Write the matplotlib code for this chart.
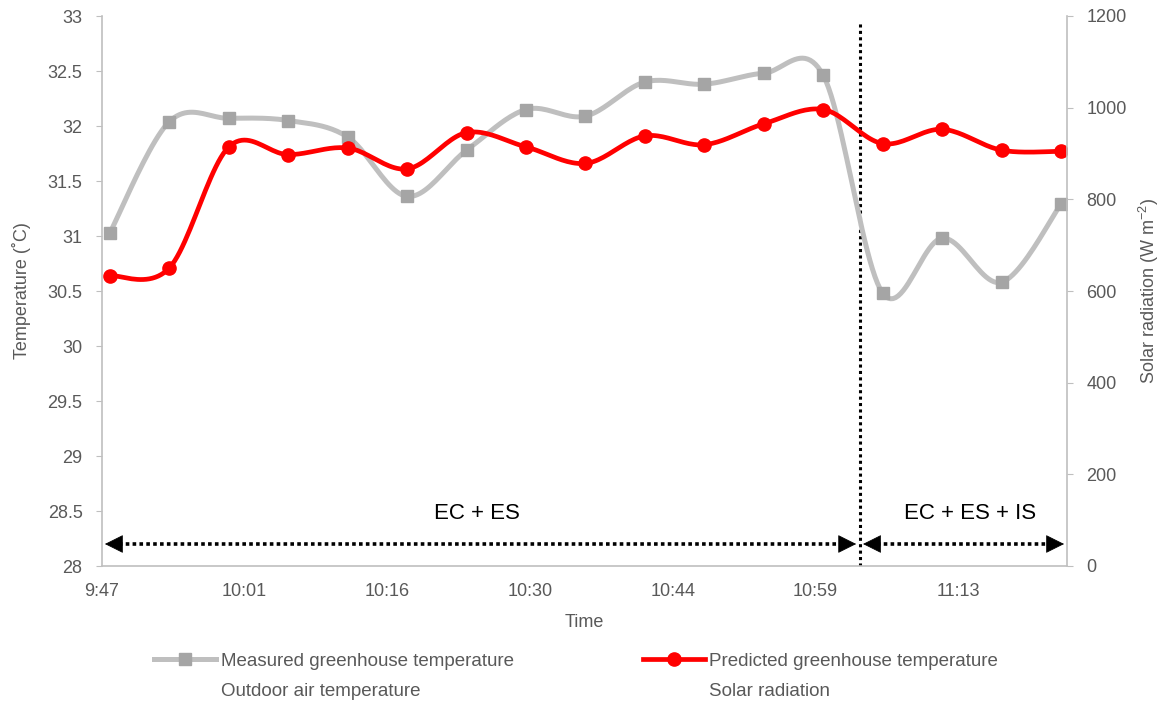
import numpy as np
import matplotlib
matplotlib.use('Agg')
import matplotlib.pyplot as plt
from matplotlib.lines import Line2D

plt.rcParams['font.family'] = ['Liberation Sans', 'DejaVu Sans']

# readings every 6 minutes
times = ['9:47:36', '9:53:36', '9:59:36', '10:05:36', '10:11:36', '10:17:36',
         '10:23:36', '10:29:36', '10:35:36', '10:41:36', '10:47:36', '10:53:36',
         '10:59:36', '11:05:36', '11:11:36', '11:17:36', '11:23:36']
measured = [31.03, 32.04, 32.07, 32.05, 31.90, 31.36, 31.78, 32.15, 32.09,
            32.40, 32.38, 32.48, 32.46, 30.48, 30.98, 30.58, 31.29]
predicted = [30.64, 30.71, 31.81, 31.74, 31.80, 31.61, 31.94, 31.81, 31.66,
             31.91, 31.83, 32.02, 32.15, 31.84, 31.97, 31.78, 31.77]

tick_times = ['9:46:48', '10:01:12', '10:15:36', '10:30:00', '10:44:24',
              '10:58:48', '11:13:12']
tick_labels = ['9:47', '10:01', '10:16', '10:30', '10:44', '10:59', '11:13']
x_range = ('9:46:48', '11:24:12')
switch_time = '11:03:16'   # EC + ES -> EC + ES + IS

GREY_LINE = '#BFBFBF'
GREY_MARK = '#A5A5A5'
RED = '#FF0000'
TXT = '#595959'


def to_min(s):
    h, m, sec = (int(v) for v in s.split(':'))
    return h * 60 + m + sec / 60.0


def smooth(x, y, n=24):
    # bezier smoothing through every point (catmull-rom style control points)
    p = np.column_stack([x, y]).astype(float)
    p = np.vstack([p[:1], p, p[-1:]])
    t = np.linspace(0, 1, n)[:, None]
    out = []
    for i in range(1, len(p) - 2):
        p0, p1, p2, p3 = p[i - 1], p[i], p[i + 1], p[i + 2]
        c1 = p1 + (p2 - p0) / 6.0
        c2 = p2 - (p3 - p1) / 6.0
        seg = ((1 - t) ** 3) * p1 + 3 * ((1 - t) ** 2) * t * c1 \
            + 3 * (1 - t) * t ** 2 * c2 + t ** 3 * p2
        out.append(seg if i == 1 else seg[1:])
    out = np.vstack(out)
    return out[:, 0], out[:, 1]


def dotted_arrow(ax, xa, xb, y):
    # dotted shaft with solid heads at both ends
    ax.plot([xa + 0.7, xb - 0.7], [y, y], color='black', lw=2.6,
            linestyle=(0, (1, 0.9)), zorder=2)
    head = dict(arrowstyle='-|>,head_length=0.6,head_width=0.3',
                color='black', lw=0.5, mutation_scale=20, shrinkA=0, shrinkB=0)
    ax.annotate('', xy=(xa, y), xytext=(xa + 1.1, y), arrowprops=head)
    ax.annotate('', xy=(xb, y), xytext=(xb - 1.1, y), arrowprops=head)


x = np.array([to_min(s) for s in times])

fig = plt.figure(figsize=(11.64, 7.04), dpi=100)
ax = fig.add_axes([102 / 1164, 138 / 704, 965 / 1164, 550 / 704])
ax2 = ax.twinx()

sx, sy = smooth(x, measured)
ax.plot(sx, sy, color=GREY_LINE, lw=3.6, solid_capstyle='round', zorder=3)
ax.plot(x, measured, 's', color=GREY_MARK, ms=8.5, zorder=4)

sx, sy = smooth(x, predicted)
ax.plot(sx, sy, color=RED, lw=3.4, solid_capstyle='round', zorder=5)
ax.plot(x, predicted, 'o', color=RED, ms=9.5, zorder=6)

xs = to_min(switch_time)
x0, x1 = to_min(x_range[0]), to_min(x_range[1])
ax.plot([xs, xs], [28, 32.945], color='black', lw=2.2,
        linestyle=(0, (1, 1.1)), zorder=2)

dotted_arrow(ax, x0 + 0.3, xs - 0.35, 28.2)
dotted_arrow(ax, xs + 0.35, x1 - 0.3, 28.2)
ax.text(624.6, 28.48, 'EC + ES', fontsize=16, ha='center', va='center')
ax.text(674.4, 28.48, 'EC + ES + IS', fontsize=16, ha='center', va='center')

ax.set_xlim(x0, x1)
ax.set_ylim(28, 33)
ax.set_yticks(np.arange(28, 33.01, 0.5))
ax.set_yticklabels([f'{v:g}' for v in np.arange(28, 33.01, 0.5)])
ax.set_xticks([to_min(s) for s in tick_times])
ax.set_xticklabels(tick_labels)
ax2.set_ylim(0, 1200)
ax2.set_yticks(range(0, 1201, 200))

for a in (ax, ax2):
    for side in ('top', 'left', 'right', 'bottom'):
        a.spines[side].set_visible(False)
    a.tick_params(labelsize=13, colors=TXT)
ax.spines['left'].set_visible(True)
ax.spines['bottom'].set_visible(True)
ax2.spines['right'].set_visible(True)
for sp in (ax.spines['left'], ax.spines['bottom'], ax2.spines['right']):
    sp.set_color(GREY_LINE)
    sp.set_linewidth(1.2)
ax.tick_params(axis='y', length=4, color=GREY_LINE, pad=10)
ax2.tick_params(axis='y', length=4, color=GREY_LINE, pad=10)
ax.tick_params(axis='x', length=0, pad=12)

ax.set_xlabel('Time', fontsize=13, color=TXT, labelpad=10)
ax.set_ylabel('Temperature (˚C)', fontsize=13, color=TXT, labelpad=12)
ax2.set_ylabel(r'Solar radiation (W m$^{\mathregular{-2}}$)', fontsize=13,
               color=TXT, labelpad=7)

handles = [
    Line2D([], [], color=GREY_LINE, lw=3.6, marker='s', ms=8.5,
           mfc=GREY_MARK, mec=GREY_MARK),
    Line2D([], [], color='none'),
    Line2D([], [], color=RED, lw=3.4, marker='o', ms=9.5, mfc=RED, mec=RED),
    Line2D([], [], color='none'),
]
names = ['Measured greenhouse temperature', 'Outdoor air temperature',
         'Predicted greenhouse temperature', 'Solar radiation']
leg = fig.legend(handles, names, ncol=2, loc='upper left',
                 bbox_to_anchor=(145 / 1164, 1 - 643 / 704), frameon=False,
                 fontsize=13.5, handlelength=3.3, handletextpad=0.25,
                 columnspacing=6.87, labelspacing=0.7, borderpad=0)
for t in leg.get_texts():
    t.set_color(TXT)

fig.savefig('out.png', dpi=100)
